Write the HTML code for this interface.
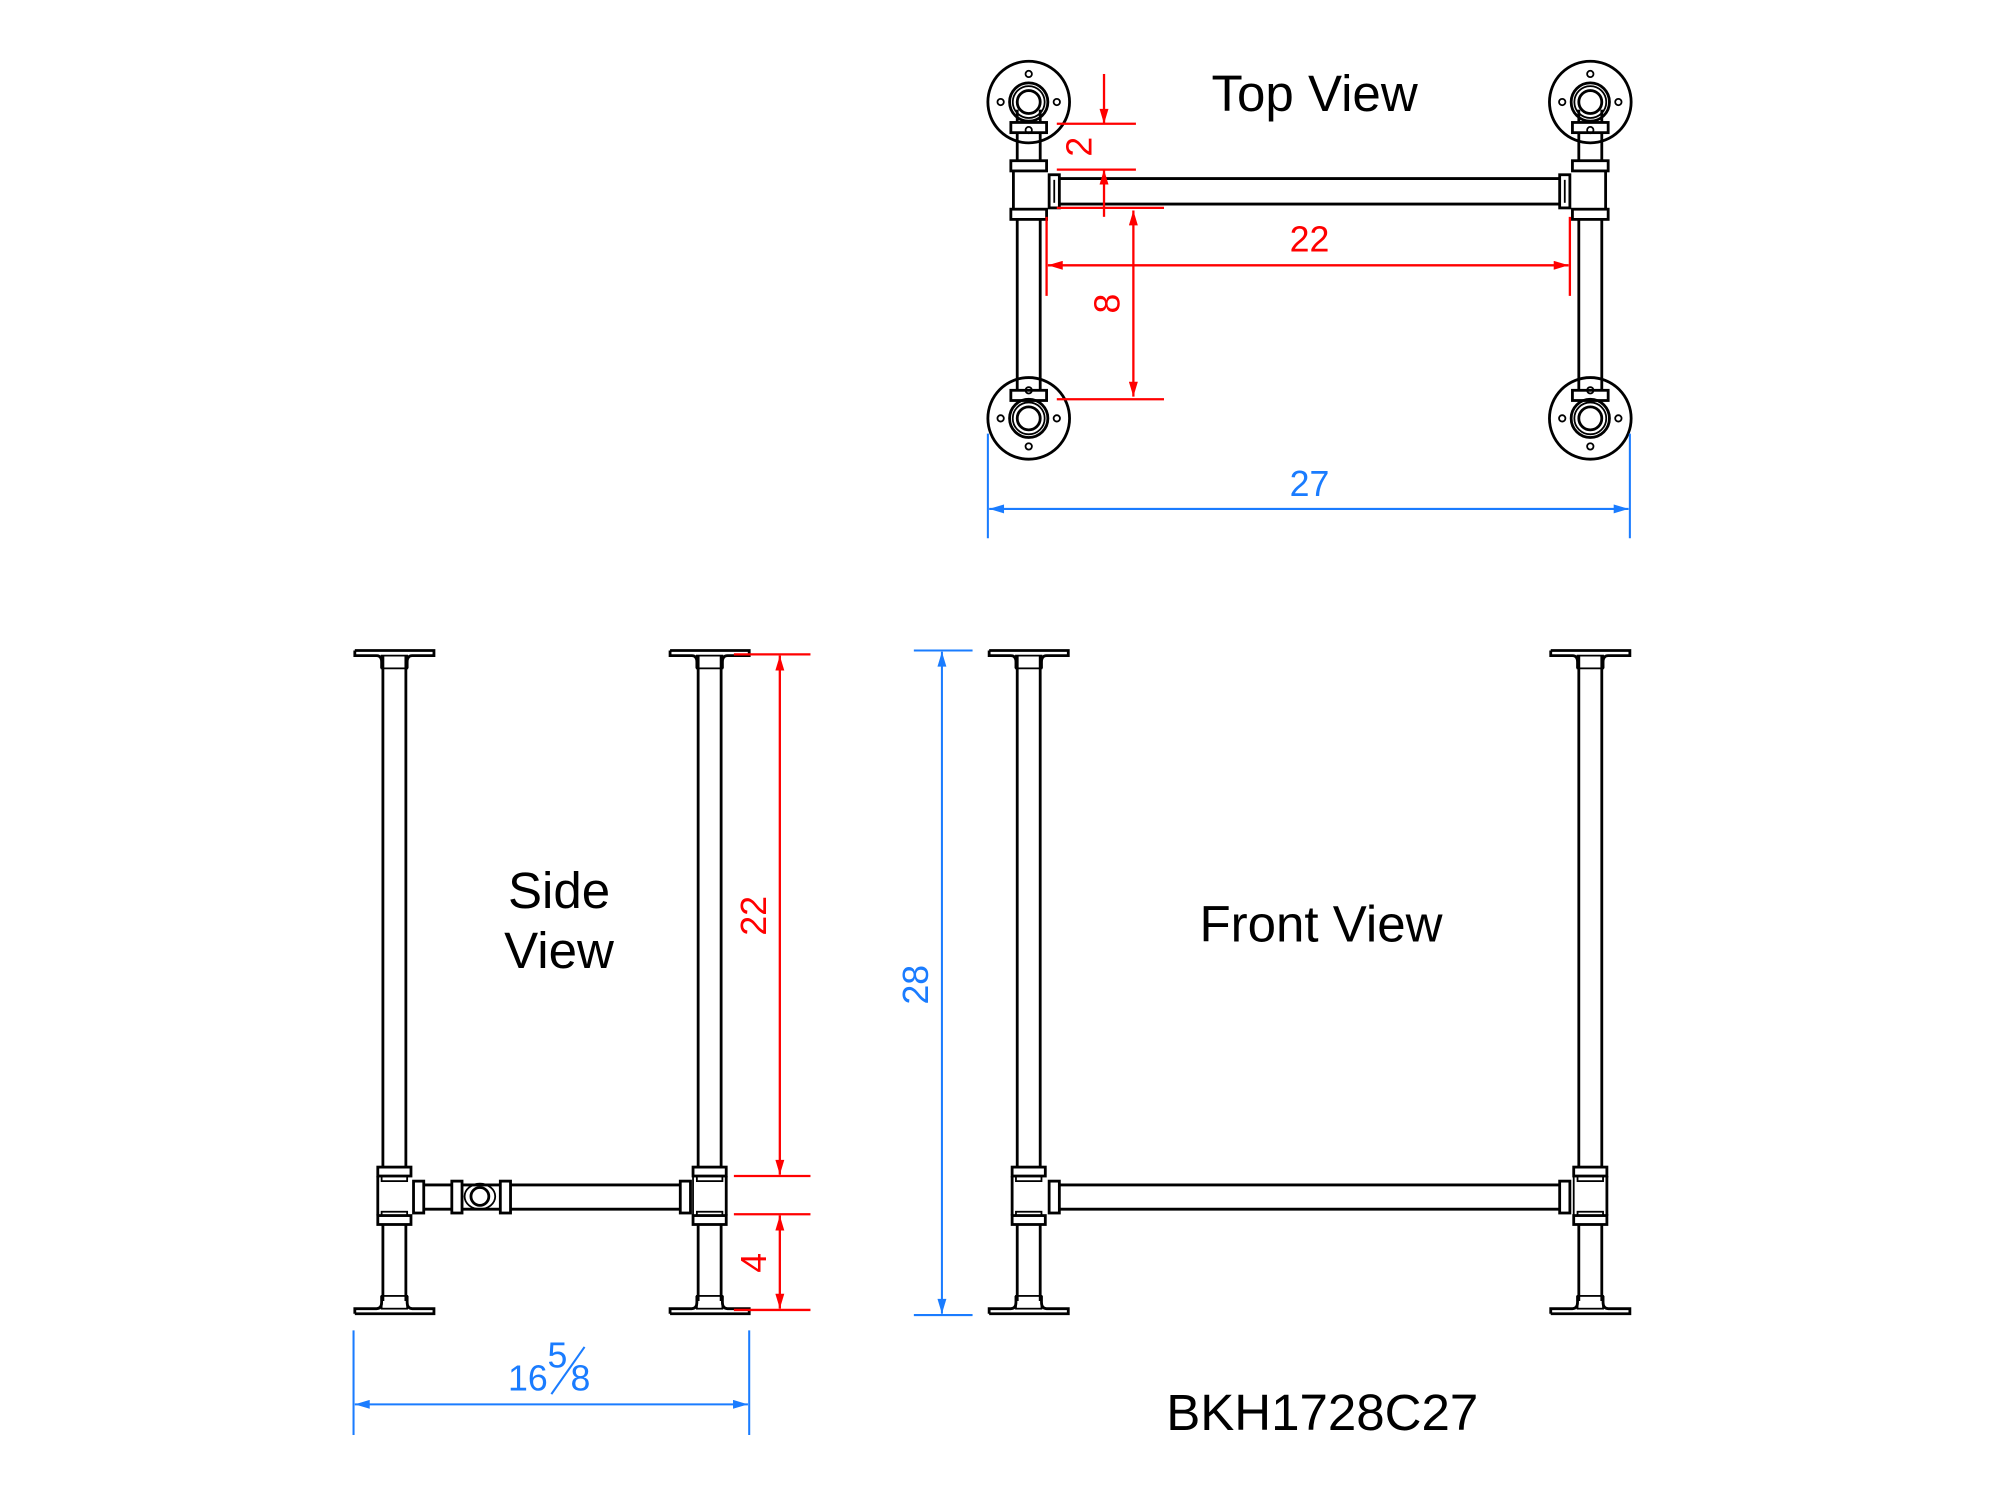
<!DOCTYPE html>
<html><head><meta charset="utf-8"><style>
html,body{margin:0;padding:0;background:#fff;}
svg{display:block;}
.k{fill:none;stroke:#000;stroke-width:2.2;}
.kt{fill:none;stroke:#000;stroke-width:1.4;}
.r{stroke:#f00;stroke-width:1.8;fill:none;}
.b{stroke:#1a7cff;stroke-width:1.6;fill:none;}
.rt{fill:#f00;font-family:"Liberation Sans",sans-serif;font-size:28px;}
.bt{fill:#1a7cff;font-family:"Liberation Sans",sans-serif;font-size:28px;}
.lab{fill:#000;font-family:"Liberation Sans",sans-serif;font-size:40px;}
</style></head><body>
<svg width="2000" height="1500" viewBox="0 0 1567 1176" preserveAspectRatio="none" xmlns="http://www.w3.org/2000/svg">
<defs>
<marker id="ar" viewBox="0 0 10 6" refX="10" refY="3" markerWidth="18" markerHeight="7" markerUnits="userSpaceOnUse" orient="auto-start-reverse"><path d="M0,0 L10,3 L0,6 z" fill="#f00"/></marker>
<marker id="ab" viewBox="0 0 10 6" refX="10" refY="3" markerWidth="20" markerHeight="7" markerUnits="userSpaceOnUse" orient="auto-start-reverse"><path d="M0,0 L10,3 L0,6 z" fill="#1a7cff"/></marker>
<g id="leg">
  <path class="k" d="M-31,0 H31 V4 H14 Q10,4 10,9 V14"/>
  <path class="k" d="M-31,0 V4 H-14 Q-10,4 -10,9 V14"/>
  <rect class="kt" x="-10" y="4" width="20" height="10"/>
  <line class="k" x1="-9" y1="4" x2="-9" y2="405"/>
  <line class="k" x1="9" y1="4" x2="9" y2="405"/>
  <rect class="k" x="-13" y="405" width="26" height="7"/>
  <rect class="kt" x="-10" y="412" width="20" height="4"/>
  <rect class="k" x="-13" y="443" width="26" height="7"/>
  <rect class="kt" x="-10" y="440" width="20" height="3"/>
  <line class="kt" x1="-13" y1="412" x2="-13" y2="443"/>
  <line class="k" x1="-9" y1="450" x2="-9" y2="510"/>
  <line class="k" x1="9" y1="450" x2="9" y2="510"/>
  <rect class="kt" x="-10" y="506" width="20" height="10"/>
  <path class="k" d="M-31,520 H31 V516 H14 Q10,516 10,511 V506"/>
  <path class="k" d="M-31,520 V516 H-14 Q-10,516 -10,511 V506"/>
</g>
<g id="flange">
  <circle class="k" cx="0" cy="0" r="32"/>
  <circle class="k" cx="0" cy="0" r="15"/>
  <circle class="kt" cx="0" cy="0" r="12.5"/>
  <circle class="k" cx="0" cy="0" r="9"/>
  <circle class="kt" cx="0" cy="-22" r="2.5"/>
  <circle class="kt" cx="0" cy="22" r="2.5"/>
  <circle class="kt" cx="-22" cy="0" r="2.5"/>
  <circle class="kt" cx="22" cy="0" r="2.5"/>
</g>
</defs>

<use href="#flange" x="806" y="80"/>
<use href="#flange" x="1246" y="80"/>
<use href="#flange" x="806" y="328"/>
<use href="#flange" x="1246" y="328"/>
<g class="k">
  <rect x="792" y="96" width="28" height="8"/>
  <rect x="792" y="126" width="28" height="8"/>
  <rect x="792" y="164" width="28" height="8"/>
  <rect x="792" y="306" width="28" height="8"/>
  <line x1="797" y1="104" x2="797" y2="126"/><line x1="815" y1="104" x2="815" y2="126"/>
  <line x1="794" y1="134" x2="794" y2="164"/>
  <line x1="797" y1="172" x2="797" y2="306"/><line x1="815" y1="172" x2="815" y2="306"/>
  <line x1="797" y1="86" x2="797" y2="96"/><line x1="815" y1="86" x2="815" y2="96"/>
  <rect x="1232" y="96" width="28" height="8"/>
  <rect x="1232" y="126" width="28" height="8"/>
  <rect x="1232" y="164" width="28" height="8"/>
  <rect x="1232" y="306" width="28" height="8"/>
  <line x1="1237" y1="104" x2="1237" y2="126"/><line x1="1255" y1="104" x2="1255" y2="126"/>
  <line x1="1258" y1="134" x2="1258" y2="164"/>
  <line x1="1237" y1="172" x2="1237" y2="306"/><line x1="1255" y1="172" x2="1255" y2="306"/>
  <line x1="1237" y1="86" x2="1237" y2="96"/><line x1="1255" y1="86" x2="1255" y2="96"/>
  <rect x="822" y="137" width="8" height="26"/>
  <rect x="1222" y="137" width="8" height="26"/>
  <line x1="830" y1="140" x2="1222" y2="140"/>
  <line x1="830" y1="160" x2="1222" y2="160"/>
</g>
<line class="kt" x1="826" y1="141" x2="826" y2="159"/>
<line class="kt" x1="1226" y1="141" x2="1226" y2="159"/>
<text class="lab" x="1030" y="87" text-anchor="middle">Top View</text>

<line class="r" x1="828" y1="97" x2="890" y2="97"/>
<line class="r" x1="828" y1="133" x2="890" y2="133"/>
<line class="r" x1="865" y1="58" x2="865" y2="97" marker-end="url(#ar)"/>
<line class="r" x1="865" y1="170" x2="865" y2="133" marker-end="url(#ar)"/>
<text class="rt" transform="translate(855,115) rotate(-90)" text-anchor="middle">2</text>
<line class="r" x1="828" y1="163" x2="912" y2="163"/>
<line class="r" x1="828" y1="313" x2="912" y2="313"/>
<line class="r" x1="888" y1="165" x2="888" y2="311" marker-start="url(#ar)" marker-end="url(#ar)"/>
<text class="rt" transform="translate(877,238) rotate(-90)" text-anchor="middle">8</text>
<line class="r" x1="820" y1="170" x2="820" y2="232"/>
<line class="r" x1="1230" y1="170" x2="1230" y2="232"/>
<line class="r" x1="821" y1="208" x2="1229" y2="208" marker-start="url(#ar)" marker-end="url(#ar)"/>
<text class="rt" x="1026" y="197" text-anchor="middle">22</text>
<line class="b" x1="774" y1="340" x2="774" y2="422"/>
<line class="b" x1="1277" y1="340" x2="1277" y2="422"/>
<line class="b" x1="775" y1="399" x2="1276" y2="399" marker-start="url(#ab)" marker-end="url(#ab)"/>
<text class="bt" x="1026" y="389" text-anchor="middle">27</text>

<use href="#leg" x="309" y="510"/>
<use href="#leg" x="556" y="510"/>
<g class="k">
  <line x1="296" y1="922" x2="296" y2="953"/>
  <line x1="569" y1="922" x2="569" y2="953"/>
  <rect x="324" y="926" width="8" height="25"/>
  <rect x="354" y="926" width="8" height="25"/>
  <rect x="392" y="926" width="8" height="25"/>
  <rect x="533" y="926" width="8" height="25"/>
  <line x1="332" y1="929" x2="354" y2="929"/><line x1="332" y1="948" x2="354" y2="948"/>
  <line x1="400" y1="929" x2="533" y2="929"/><line x1="400" y1="948" x2="533" y2="948"/>
  <path d="M362,929 H392 M362,948 H392"/>
  <circle cx="376" cy="938" r="7"/>
</g>
<ellipse class="kt" cx="376" cy="938" rx="12" ry="10"/>
<text class="lab" x="438" y="712" text-anchor="middle">Side</text>
<text class="lab" x="438" y="759" text-anchor="middle">View</text>
<line class="r" x1="575" y1="513" x2="635" y2="513"/>
<line class="r" x1="575" y1="922" x2="635" y2="922"/>
<line class="r" x1="575" y1="952" x2="635" y2="952"/>
<line class="r" x1="575" y1="1027" x2="635" y2="1027"/>
<line class="r" x1="611" y1="514" x2="611" y2="921" marker-start="url(#ar)" marker-end="url(#ar)"/>
<line class="r" x1="611" y1="953" x2="611" y2="1026" marker-start="url(#ar)" marker-end="url(#ar)"/>
<text class="rt" transform="translate(600,718) rotate(-90)" text-anchor="middle">22</text>
<text class="rt" transform="translate(600,990) rotate(-90)" text-anchor="middle">4</text>
<line class="b" x1="277" y1="1043" x2="277" y2="1125"/>
<line class="b" x1="587" y1="1043" x2="587" y2="1125"/>
<line class="b" x1="278" y1="1101" x2="586" y2="1101" marker-start="url(#ab)" marker-end="url(#ab)"/>
<text class="bt" x="398" y="1090" font-size="24">16</text>
<text class="bt" x="429" y="1072" font-size="24">5</text>
<line class="b" x1="432" y1="1093" x2="458" y2="1056"/>
<text class="bt" x="447" y="1090" font-size="24">8</text>

<use href="#leg" x="806" y="510"/>
<use href="#leg" x="1246" y="510"/>
<g class="k">
  <line x1="793" y1="922" x2="793" y2="953"/>
  <line x1="1259" y1="922" x2="1259" y2="953"/>
  <rect x="822" y="926" width="8" height="25"/>
  <rect x="1222" y="926" width="8" height="25"/>
  <line x1="830" y1="929" x2="1222" y2="929"/><line x1="830" y1="948" x2="1222" y2="948"/>
</g>
<text class="lab" x="1035" y="738" text-anchor="middle">Front View</text>
<line class="b" x1="716" y1="510" x2="762" y2="510"/>
<line class="b" x1="716" y1="1031" x2="762" y2="1031"/>
<line class="b" x1="738" y1="511" x2="738" y2="1030" marker-start="url(#ab)" marker-end="url(#ab)"/>
<text class="bt" transform="translate(727,772) rotate(-90)" text-anchor="middle">28</text>

<text class="lab" x="1036" y="1121" text-anchor="middle">BKH1728C27</text>
</svg>
</body></html>
